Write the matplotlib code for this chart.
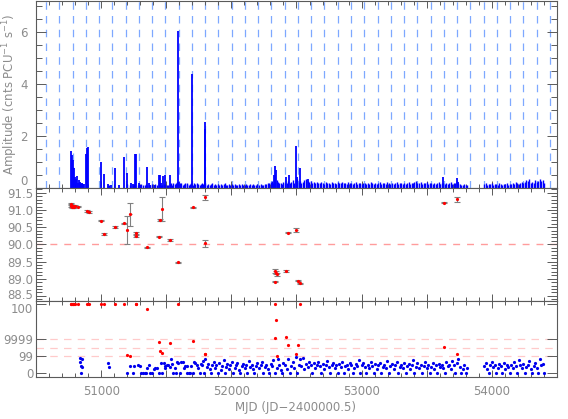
import numpy as np
import matplotlib.pyplot as plt
from matplotlib.ticker import MultipleLocator, FixedLocator, FuncFormatter
from matplotlib.transforms import ScaledTranslation

# --- data ---
# top panel: bright flares (MJD, amplitude)
flare_mjd = [50769, 50777, 50785, 50792, 50800, 50808, 50815, 50823, 50833, 50841,
             50852, 50862, 50872, 50887, 50892, 50902, 51000, 51025, 51052, 51077,
             51108, 51138, 51179, 51200, 51231, 51244, 51261, 51271, 51287, 51302,
             51354, 51364, 51379, 51410, 51441, 51451, 51461, 51474, 51487, 51525,
             51590, 51600, 51700, 51794, 51800, 52325, 52333, 52340, 52417, 52440,
             52500, 52507, 52530, 52590, 53628, 53730, 53743]
flare_amp = [1.42, 1.27, 1.08, 0.77, 0.43, 0.35, 0.45, 0.20, 0.30, 0.25,
             0.20, 0.15, 0.15, 1.30, 1.53, 1.57, 1.00, 0.53, 0.15, 0.10,
             0.78, 0.10, 1.19, 0.57, 0.20, 0.15, 1.31, 1.30, 0.20, 0.10,
             0.82, 0.20, 0.10, 0.10, 0.50, 0.50, 0.20, 0.45, 0.50, 0.50,
             6.04, 0.25, 4.38, 2.53, 2.26, 0.50, 0.86, 0.70, 0.44, 0.50,
             1.62, 0.44, 0.76, 0.33, 0.44, 0.40, 0.25]

# observations without a significant detection (MJD, significance, amplitude)
obs_mjd = [50835, 50838, 50843, 50848, 50852, 50856, 51052, 51064, 51200, 51218,
           51244, 51251, 51282, 51295, 51308, 51321, 51333, 51341, 51354, 51371,
           51379, 51390, 51405, 51415, 51431, 51444, 51461, 51469, 51479, 51487,
           51494, 51505, 51513, 51525, 51533, 51544, 51551, 51564, 51577, 51584,
           51594, 51607, 51615, 51628, 51636, 51641, 51656, 51661, 51671, 51684,
           51692, 51705, 51713, 51723, 51733, 51744, 51756, 51764, 51772, 51785,
           51790, 51801, 51812, 51820, 51833, 51845, 51852, 51866, 51874, 51885,
           51897, 51905, 51918, 51926, 51940, 51948, 51957, 51970, 51982, 51990,
           52003, 52012, 52025, 52036, 52045, 52058, 52066, 52078, 52090, 52101,
           52113, 52122, 52135, 52146, 52156, 52168, 52177, 52190, 52200, 52212,
           52224, 52233, 52245, 52256, 52268, 52280, 52292, 52302, 52313, 52322,
           52336, 52349, 52358, 52366, 52379, 52388, 52400, 52412, 52425, 52437,
           52448, 52459, 52470, 52482, 52493, 52505, 52516, 52527, 52538, 52550,
           52561, 52573, 52585, 52597, 52608, 52620, 52631, 52643, 52655, 52666,
           52678, 52690, 52701, 52713, 52724, 52736, 52748, 52759, 52770, 52782,
           52794, 52805, 52817, 52829, 52840, 52852, 52863, 52874, 52886, 52898,
           52909, 52921, 52932, 52944, 52955, 52967, 52978, 52990, 53002, 53013,
           53025, 53036, 53048, 53060, 53071, 53083, 53094, 53106, 53117, 53129,
           53140, 53152, 53164, 53175, 53187, 53198, 53210, 53221, 53233, 53245,
           53256, 53268, 53279, 53291, 53302, 53314, 53325, 53337, 53349, 53360,
           53372, 53383, 53395, 53406, 53418, 53429, 53441, 53453, 53464, 53476,
           53487, 53499, 53510, 53522, 53533, 53545, 53557, 53568, 53580, 53591,
           53603, 53614, 53626, 53638, 53649, 53661, 53672, 53684, 53695, 53707,
           53718, 53730, 53741, 53753, 53764, 53776, 53788, 53800, 53812, 53940,
           53952, 53963, 53975, 53986, 53998, 54009, 54021, 54032, 54044, 54055,
           54067, 54078, 54090, 54102, 54113, 54125, 54136, 54148, 54159, 54171,
           54182, 54194, 54206, 54217, 54229, 54240, 54252, 54263, 54275, 54287,
           54298, 54310, 54321, 54333, 54344, 54356, 54367, 54379, 54390, 54402]
obs_sig = [1.8, 1.3, 0, 0.8, 1.65, 0.7, 1.2, 0.74, 0, 0.8,
           0, 0.8, 1.0, 0.8, 0, 0, 0, 0, 0.6, 0.9,
           0, 0, 0.5, 0.6, 0.65, 0, 1.2, 0, 1.15, 0.8,
           0.6, 0.9, 0.95, 0.7, 1.65, 1.1, 0, 0.55, 0, 1.3,
           1.15, 0, 1.3, 1.3, 0.6, 0.8, 0, 0.85, 0, 0,
           0.8, 0, 1.3, 1.2, 1.0, 0.55, 0, 1.1, 0.9, 1.4,
           0, 1.6, 0.7, 1.1, 0.5, 0, 0.9, 1.3, 0.6, 1.0,
           0, 1.2, 0.4, 0.8, 1.5, 0, 0.7, 1.1, 0.5, 0.9,
           1.3, 0, 0.6, 1.0, 1.2, 0.4, 0, 0.8, 1.1, 0.6,
           0.9, 0, 1.4, 0.7, 1.0, 0.5, 0, 0.8, 1.2, 0.6,
           0.9, 1.3, 0, 0.7, 1.0, 0.5, 0, 1.1, 0.8, 1.5,
           0, 0.6, 1.7, 1.0, 0.4, 0, 1.2, 0.9, 0.5, 1.6,
           0, 0.8, 1.3, 0.6, 1.9, 0, 1.0, 1.7, 0.8, 1.8,
           0.5, 1.1, 0.7, 1.3, 0.9, 0, 1.2, 0.6, 1.0, 1.3,
           0.8, 0, 1.1, 0.5, 0.9, 1.4, 0.7, 0, 1.0, 1.2,
           0.6, 0.9, 0, 1.1, 0.7, 1.3, 0, 0.8, 1.0, 0.5,
           1.2, 0.9, 0, 0.6, 1.1, 0.8, 1.5, 0, 0.9, 1.2,
           0.7, 0, 1.0, 0.6, 1.3, 0.8, 0, 1.1, 0.5, 0.9,
           1.2, 0, 0.7, 1.0, 0.6, 1.4, 0, 0.8, 1.1, 0.5,
           0.9, 1.3, 0, 0.7, 1.0, 0.6, 1.2, 0, 0.8, 1.1,
           0.5, 0.9, 1.5, 0, 0.7, 1.2, 0.6, 1.0, 0, 0.8,
           1.3, 0.6, 1.0, 0, 0.7, 1.2, 0.5, 0.9, 0, 1.1,
           0.7, 1.0, 0.6, 0, 1.3, 0.8, 1.0, 0.5, 1.4, 0.9,
           0, 1.2, 1.6, 0.7, 0, 0.5, 1.0, 0, 0.6, 0.8,
           1.2, 0.5, 0, 0.9, 1.3, 0.7, 1.0, 0, 0.6, 1.1,
           0.8, 0, 1.2, 0.5, 0.9, 0.7, 0, 1.0, 0.6, 1.3,
           0.8, 0, 1.5, 0.9, 0.6, 1.1, 0, 0.7, 1.0, 1.4,
           0.5, 0, 0.8, 1.2, 0.6, 0, 1.6, 0.9, 1.1, 0]
obs_amp = [0.20, 0.15, 0.12, 0.18, 0.10, 0.15, 0.12, 0.10, 0.15, 0.12,
           0.10, 0.14, 0.12, 0.10, 0.15, 0.12, 0.10, 0.14, 0.12, 0.10,
           0.12, 0.15, 0.10, 0.14, 0.12, 0.15, 0.10, 0.12, 0.16, 0.12,
           0.14, 0.10, 0.12, 0.15, 0.18, 0.12, 0.20, 0.15, 0.18, 0.22,
           0.15, 0.20, 0.18, 0.12, 0.16, 0.20, 0.14, 0.18, 0.12, 0.15,
           0.18, 0.12, 0.20, 0.15, 0.18, 0.14, 0.12, 0.16, 0.20, 0.15,
           0.14, 0.18, 0.12, 0.16, 0.10, 0.14, 0.18, 0.12, 0.15, 0.10,
           0.14, 0.12, 0.16, 0.10, 0.14, 0.18, 0.12, 0.10, 0.15, 0.12,
           0.14, 0.10, 0.16, 0.12, 0.10, 0.14, 0.12, 0.16, 0.10, 0.12,
           0.14, 0.10, 0.12, 0.15, 0.10, 0.14, 0.12, 0.10, 0.16, 0.12,
           0.14, 0.10, 0.12, 0.16, 0.14, 0.20, 0.18, 0.22, 0.28, 0.20,
           0.24, 0.30, 0.22, 0.18, 0.20, 0.16, 0.22, 0.18, 0.20, 0.26,
           0.18, 0.22, 0.30, 0.20, 0.26, 0.34, 0.22, 0.28, 0.20, 0.24,
           0.30, 0.36, 0.26, 0.22, 0.28, 0.20, 0.24, 0.18, 0.22, 0.20,
           0.18, 0.24, 0.20, 0.16, 0.22, 0.18, 0.20, 0.16, 0.22, 0.18,
           0.20, 0.16, 0.22, 0.18, 0.20, 0.24, 0.18, 0.20, 0.16, 0.22,
           0.18, 0.20, 0.14, 0.18, 0.22, 0.16, 0.20, 0.18, 0.16, 0.20,
           0.18, 0.14, 0.20, 0.16, 0.22, 0.18, 0.16, 0.20, 0.14, 0.18,
           0.22, 0.16, 0.20, 0.18, 0.16, 0.22, 0.18, 0.14, 0.20, 0.16,
           0.18, 0.22, 0.16, 0.20, 0.18, 0.14, 0.20, 0.16, 0.18, 0.22,
           0.16, 0.20, 0.18, 0.22, 0.26, 0.20, 0.18, 0.22, 0.16, 0.20,
           0.18, 0.22, 0.16, 0.20, 0.18, 0.14, 0.20, 0.16, 0.18, 0.22,
           0.16, 0.20, 0.18, 0.14, 0.20, 0.16, 0.18, 0.22, 0.16, 0.20,
           0.18, 0.24, 0.20, 0.16, 0.12, 0.10, 0.16, 0.12, 0.10, 0.14,
           0.18, 0.12, 0.16, 0.14, 0.18, 0.12, 0.16, 0.14, 0.12, 0.18,
           0.14, 0.12, 0.16, 0.14, 0.18, 0.12, 0.16, 0.14, 0.20, 0.16,
           0.22, 0.18, 0.16, 0.20, 0.24, 0.18, 0.22, 0.30, 0.26, 0.34,
           0.20, 0.24, 0.18, 0.30, 0.22, 0.26, 0.34, 0.28, 0.30, 0.20]

# significant detections: bottom panel position and middle panel value
det_mjd = [50765, 50772, 50777, 50782, 50787, 50792, 50798, 50821, 50892, 50905,
           51000, 51025, 51110, 51179, 51200, 51225, 51264, 51269, 51354, 51441,
           51449, 51469, 51525, 51590, 51705, 51795, 51800, 52333, 52336, 52346,
           52354, 52418, 52436, 52500, 52508, 52530, 53635, 53730]
det_val = [91.17, 91.13, 91.10, 91.12, 91.09, 91.08, 91.11, 91.10, 90.97, 90.94,
           90.69, 90.30, 90.50, 90.61, 90.42, 90.87, 90.24, 90.32, 89.91, 90.22,
           90.71, 91.03, 90.13, 89.48, 91.08, 90.03, 91.37, 88.91, 89.23, 89.18,
           89.13, 89.22, 90.34, 90.42, 88.94, 88.86, 91.21, 91.31]
det_err = [0.03, 0.03, 0.03, 0.03, 0.03, 0.03, 0.03, 0.02, 0.02, 0.02,
           0.02, 0.02, 0.02, 0.02, 0.41, 0.34, 0.03, 0.03, 0.02, 0.02,
           0.02, 0.34, 0.02, 0.02, 0.02, 0.10, 0.07, 0.02, 0.05, 0.05,
           0.04, 0.02, 0.02, 0.05, 0.02, 0.02, 0.02, 0.07]
det_sig = [8.1, 8.1, 8.1, 8.1, 8.1, 8.1, 8.1, 8.1, 8.1, 8.1,
           8.1, 8.1, 8.1, 8.1, 2.12, 2.04, 8.1, 8.1, 7.53, 3.68,
           2.59, 2.31, 3.56, 8.1, 3.8, 2.2, 2.2, 4.08, 8.1, 6.2,
           2.04, 4.24, 3.25, 2.23, 3.25, 8.1, 3.02, 2.2]

# reference epochs marked in the top panel
epoch_mjd = [50577, 50679, 50781, 50882, 50984, 51086, 51188, 51290, 51391, 51493,
             51595, 51697, 51799, 51900, 52002, 52104, 52206, 52308, 52409, 52511,
             52613, 52715, 52817, 52918, 53020, 53122, 53224, 53326, 53427, 53529,
             53631, 53733, 53835, 53936, 54038, 54140, 54242, 54344, 54445]

sig_ticks = [0, 2, 4, 8.1]
sig_labels = ['0', '99', '9999', '100']
sig_lines = [2, 3, 4]

# --- figure ---
TXT = '#8c8c8c'
AXC = '#5a5a5a'
plt.rcParams.update({'font.size': 8.5, 'font.family': 'DejaVu Sans',
                     'axes.edgecolor': AXC, 'axes.linewidth': 0.8,
                     'xtick.color': AXC, 'ytick.color': AXC,
                     'xtick.labelcolor': TXT, 'ytick.labelcolor': TXT})

fig = plt.figure(figsize=(5.68, 4.19), dpi=100)
L, W = 0.0634, 0.9172
ax1 = fig.add_axes([L, 0.5513, W, 0.4463])
ax2 = fig.add_axes([L, 0.2816, W, 0.2697])
ax3 = fig.add_axes([L, 0.1014, W, 0.1802])

for ax in (ax1, ax2, ax3):
    ax.set_xlim(50500, 54500)
    ax.xaxis.set_major_locator(MultipleLocator(500))
    ax.xaxis.set_minor_locator(MultipleLocator(100))
    ax.tick_params(which='both', direction='in', top=True, right=True, width=0.7)
    ax.tick_params(axis='x', which='major', length=5)
    ax.tick_params(axis='x', which='minor', length=3)
    ax.tick_params(axis='y', which='major', length=7, pad=2)
    ax.tick_params(axis='y', which='minor', length=4)
    ax.tick_params(axis='x', labelbottom=False)

# top panel: amplitude light curve
ax1.vlines(obs_mjd, 0, obs_amp, color='#0000ff', linewidth=1.0)
ax1.vlines(flare_mjd, 0, flare_amp, color='#0000ff', linewidth=1.3)
for m in epoch_mjd:
    ax1.axvline(m, color='#7ea8ff', linestyle=(0, (6, 5)), linewidth=0.9, zorder=0)
ax1.set_ylim(0, 7.2)
ax1.yaxis.set_major_locator(MultipleLocator(2))
ax1.yaxis.set_minor_locator(MultipleLocator(0.5))
ax1.tick_params(axis='y', pad=6)

# middle panel
ax2.axhline(90.0, color='#ff9c9c', linestyle=(0, (5, 5)), linewidth=1.0, zorder=0)
ax2.errorbar(det_mjd, det_val, xerr=9, fmt='none', ecolor='#808080', elinewidth=0.8)
ax2.errorbar(det_mjd, det_val, yerr=det_err, fmt='none',
             ecolor='#808080', elinewidth=0.8, capsize=2.5, capthick=0.8)
ax2.plot(det_mjd, det_val, 'o', color='#ff0000', markersize=2.3, markeredgewidth=0)
ax2.set_ylim(88.35, 91.64)
ax2.yaxis.set_major_locator(MultipleLocator(0.5))
ax2.yaxis.set_minor_locator(MultipleLocator(0.1))
ax2.yaxis.set_major_formatter(FuncFormatter(lambda v, p: f'{v:.1f}'))

# bottom panel: significance
for s in sig_lines:
    ax3.axhline(s, color='#ffcaca', linestyle=(0, (6, 5)), linewidth=0.9, zorder=0)
ax3.plot(obs_mjd, obs_sig, 'o', color='#0000ee', markersize=2.3, markeredgewidth=0)
ax3.plot(det_mjd, det_sig, 'o', color='#ff0000', markersize=2.3, markeredgewidth=0)
ax3.set_ylim(-0.41, 8.47)
ax3.yaxis.set_major_locator(FixedLocator(sig_ticks))
ax3.set_yticklabels(sig_labels)
ax3.yaxis.set_minor_locator(FixedLocator([]))
ax3.tick_params(axis='x', labelbottom=True, pad=6)
ax3.xaxis.set_major_formatter(FuncFormatter(lambda v, p: f'{v:.0f}' if v % 1000 == 0 else ''))

fig.text(0.018, 1 - 94 / 419, 'Amplitude (cnts PCU$^{-1}$ s$^{-1}$)', rotation=90,
         ha='center', va='center', color=TXT, fontsize=8.5)
fig.text(0.521, 1 - 407 / 419, 'MJD (JD\u22122400000.5)', ha='center', va='center',
         color=TXT, fontsize=8.5)

# keep the labels at the panel joins apart, as in the reference
fig.canvas.draw()
for t in ax1.yaxis.get_major_ticks():
    if abs(t.get_loc()) < 1e-9:
        t.label1.set_verticalalignment('bottom')
for t in ax2.yaxis.get_major_ticks():
    if abs(t.get_loc() - 88.5) < 1e-6:
        t.label1.set_transform(t.label1.get_transform() +
                               ScaledTranslation(0, 1.5 / 72, fig.dpi_scale_trans))
for t in ax3.yaxis.get_major_ticks():
    if abs(t.get_loc() - 8.1) < 1e-6:
        t.label1.set_transform(t.label1.get_transform() +
                               ScaledTranslation(0, -2.5 / 72, fig.dpi_scale_trans))

fig.savefig('out.png', dpi=100)
